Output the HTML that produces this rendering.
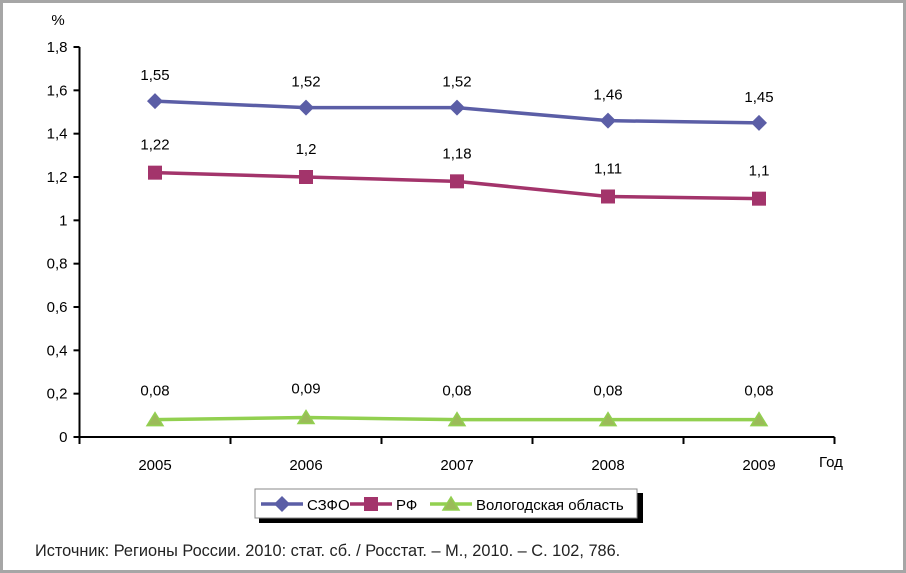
<!DOCTYPE html>
<html><head><meta charset="utf-8"><style>
body{margin:0;background:#fff;}
#wrap{position:relative;width:906px;height:573px;overflow:hidden;font-family:"Liberation Sans",sans-serif;}
#frame{position:absolute;left:0;top:0;width:900px;height:567px;border:3px solid #a6a6a6;}
#src{position:absolute;left:35px;top:541px;font-size:17px;color:#222;transform:scaleX(0.96);transform-origin:left top;white-space:nowrap;}
</style></head><body>
<div id="wrap">
<div id="frame"></div>
<svg id="chart" width="906" height="573" style="position:absolute;left:0;top:0"></svg>
<div id="src">Источник: Регионы России. 2010: стат. сб. / Росстат. – М., 2010. – С. 102, 786.</div>
</div>
<script>
const categories=["2005","2006","2007","2008","2009"];
const szfo=[1.55,1.52,1.52,1.46,1.45];
const rf=[1.22,1.2,1.18,1.11,1.1];
const vologda=[0.08,0.09,0.08,0.08,0.08];
const labelsSzfo=["1,55","1,52","1,52","1,46","1,45"];
const labelsRf=["1,22","1,2","1,18","1,11","1,1"];
const labelsVol=["0,08","0,09","0,08","0,08","0,08"];
const yTicks=[0,0.2,0.4,0.6,0.8,1,1.2,1.4,1.6,1.8];
const yTickLabels=["0","0,2","0,4","0,6","0,8","1","1,2","1,4","1,6","1,8"];

const svg=document.getElementById('chart');
const NS="http://www.w3.org/2000/svg";
const x0=79.5,x1=834.5,y0=437,y1=47,yMax=1.8;
const band=(x1-x0)/categories.length;
const X=i=>x0+band*(i+0.5);
const Y=v=>y0-(v/yMax)*(y0-y1);
function mk(tag,attrs,parent){const e=document.createElementNS(NS,tag);for(const k in attrs)e.setAttribute(k,attrs[k]);(parent||svg).appendChild(e);return e;}
const F='"Liberation Sans",sans-serif';

let a=mk('line',{x1:x0,y1:y1,x2:x0,y2:y0,stroke:'#000','stroke-width':2});


a=mk('line',{x1:x0,y1:y0,x2:x1,y2:y0,stroke:'#000','stroke-width':2});


yTicks.forEach((v,i)=>{
 const t=mk('line',{x1:x0-6,y1:Y(v),x2:x0,y2:Y(v),stroke:'#000','stroke-width':2});
 
 
 const l=mk('text',{x:x0-12,y:Y(v)+5,'text-anchor':'end','font-family':F,'font-size':15,fill:'#000'});
 l.textContent=yTickLabels[i];
 
 
});
for(let i=0;i<=categories.length;i++){
 const xx=x0+band*i;
 const t=mk('line',{x1:xx,y1:y0,x2:xx,y2:y0+7,stroke:'#000','stroke-width':2});
 
 
}
categories.forEach((c,i)=>{
 const l=mk('text',{x:X(i),y:y0+33,'text-anchor':'middle','font-family':F,'font-size':15,fill:'#000'});
 l.textContent=c;
 
 
});
let t=mk('text',{x:58,y:25,'text-anchor':'middle','font-family':F,'font-size':15});
t.textContent='%';


t=mk('text',{x:831,y:467,'text-anchor':'middle','font-family':F,'font-size':15});
t.textContent='Год';



function marker(type,cx,cy,color,g){
 if(type==='d') return mk('polygon',{points:`${cx},${cy-8} ${cx+8},${cy} ${cx},${cy+8} ${cx-8},${cy}`,fill:color},g);
 if(type==='s') return mk('rect',{x:cx-7,y:cy-7,width:14,height:14,fill:color},g);
 return mk('polygon',{points:`${cx},${cy-7} ${cx+8},${cy+6} ${cx-8},${cy+6}`,fill:'#9bbb59',stroke:'#92d050','stroke-width':1.5},g);
}
function series(name,vals,labels,lineColor,markColor,type,labOff){
 const g=mk('g',{});
 
 
 const p=mk('polyline',{points:vals.map((v,i)=>X(i)+','+Y(v)).join(' '),fill:'none',stroke:lineColor,'stroke-width':3.5},g);
 
 
 vals.forEach((v,i)=>{
  const m=marker(type,X(i),Y(v),markColor,g);
  
  
  const l=mk('text',{x:X(i),y:Y(v)-labOff,'text-anchor':'middle','font-family':F,'font-size':15},g);
  l.textContent=labels[i];
  
  
 });
}
series('szfo',szfo,labelsSzfo,'#5b5ea6','#5b5ea6','d',21);
series('rf',rf,labelsRf,'#a3346b','#a3346b','s',23);
series('vologda',vologda,labelsVol,'#92d050','#9bbb59','t',24);

const lg=mk('g',{});


mk('rect',{x:259,y:493,width:384,height:30,fill:'#000'},lg);
mk('rect',{x:255,y:489,width:382,height:29,fill:'#fff',stroke:'#888','stroke-width':1},lg);
const items=[['СЗФО','#5b5ea6','#5b5ea6','d',261],['РФ','#a3346b','#a3346b','s',350],['Вологодская область','#92d050','#9bbb59','t',430]];
items.forEach(it=>{
 const e=mk('g',{},lg);
 
 
 mk('line',{x1:it[4],y1:504,x2:it[4]+42,y2:504,stroke:it[1],'stroke-width':3.5},e);
 marker(it[3],it[4]+21,504,it[2],e);
 const l=mk('text',{x:it[4]+46,y:510,'font-family':F,'font-size':15},e);
 l.textContent=it[0];
});
</script>
</body></html>
